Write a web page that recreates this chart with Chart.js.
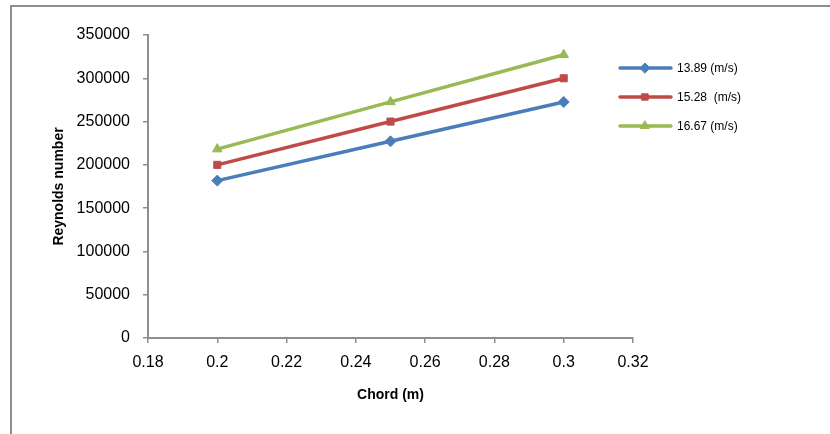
<!DOCTYPE html>
<html>
<head>
<meta charset="utf-8">
<script src="https://cdn.jsdelivr.net/npm/chart.js@4/dist/chart.umd.min.js"></script>
<style>
    html, body { margin: 0; padding: 0; background: #fff; overflow: hidden; }
    #wrap { position: relative; width: 830px; height: 434px; }
    #frame {
        position: absolute; left: 10px; top: 5px; width: 900px; height: 500px;
        border-left: 2px solid #8e8e8e; border-top: 2px solid #8e8e8e;
    }
    #chart { position: absolute; left: 0; top: 0; }
</style>
</head>
<body>
<div id="wrap">
    <div id="frame"></div>
    <canvas id="chart" width="830" height="434"></canvas>
</div>
<script>
// Chart data
const chordValues = [0.2, 0.25, 0.3];
const seriesLabels = ['13.89 (m/s)', '15.28  (m/s)', '16.67 (m/s)'];
const re1389 = [181800, 227200, 272700];
const re1528 = [200000, 250000, 300000];
const re1667 = [218200, 272700, 327200];
const xTicks = [0.18, 0.2, 0.22, 0.24, 0.26, 0.28, 0.3, 0.32];
const yTicks = [0, 50000, 100000, 150000, 200000, 250000, 300000, 350000];

const seriesColors = ['#4a7ebb', '#be4b48', '#98b954'];
const seriesMarkers = ['rectRot', 'rect', 'triangle'];
const seriesValues = [re1389, re1528, re1667];

const FONT = '"Liberation Sans", Arial, sans-serif';

// Custom legend: line with marker, like the spreadsheet one
const lineLegend = {
    id: 'lineLegend',
    afterDraw(chart) {
        const c = chart.ctx;
        const rows = [68, 97, 126];
        chart.data.datasets.forEach((ds, i) => {
            const y = rows[i];
            c.save();
            c.strokeStyle = ds.borderColor;
            c.lineWidth = 3.5;
            c.lineCap = 'round';
            c.beginPath();
            c.moveTo(620, y);
            c.lineTo(671, y);
            c.stroke();
            c.fillStyle = ds.borderColor;
            c.lineWidth = 1;
            Chart.helpers.drawPoint(c, {
                pointStyle: ds.pointStyle,
                radius: ds.pointRadius - 0.5,
                rotation: 0,
                borderWidth: 1
            }, 645, y);
            c.fillStyle = '#000';
            c.font = '12px ' + FONT;
            c.textBaseline = 'middle';
            c.fillText(ds.label, 677, y + 1);
            c.restore();
        });
    }
};

new Chart(document.getElementById('chart'), {
    type: 'line',
    data: {
        datasets: seriesValues.map((vals, i) => ({
            label: seriesLabels[i],
            data: chordValues.map((x, j) => ({ x: x, y: vals[j] })),
            borderColor: seriesColors[i],
            backgroundColor: seriesColors[i],
            borderWidth: 3.5,
            pointStyle: seriesMarkers[i],
            pointRadius: i === 1 ? 5 : 5.5,
            pointBorderWidth: 1,
            tension: 0
        }))
    },
    options: {
        responsive: false,
        animation: false,
        layout: { padding: { left: 51, right: 197, top: 35, bottom: 30 } },
        plugins: {
            legend: { display: false },
            tooltip: { enabled: false }
        },
        scales: {
            x: {
                type: 'linear',
                min: 0.18,
                max: 0.32,
                afterBuildTicks: s => { s.ticks = xTicks.map(v => ({ value: v })); },
                afterFit: s => { s.height = 434 - 338 - 30; },
                ticks: {
                    color: '#000',
                    font: { family: FONT, size: 16 },
                    padding: 10,
                    maxRotation: 0,
                    callback: v => String(parseFloat(v.toFixed(2)))
                },
                grid: {
                    drawOnChartArea: false,
                    drawTicks: true,
                    tickLength: 5,
                    color: '#8e8e8e',
                    lineWidth: 1.5
                },
                border: { color: '#8e8e8e', width: 2 },
                title: {
                    display: true,
                    text: 'Chord (m)',
                    color: '#000',
                    font: { family: FONT, size: 14, weight: 'bold' },
                    padding: { top: 14, bottom: 0 }
                }
            },
            y: {
                type: 'linear',
                min: 0,
                max: 350000,
                afterBuildTicks: s => { s.ticks = yTicks.map(v => ({ value: v })); },
                afterFit: s => { s.width = 148 - 51; },
                ticks: {
                    color: '#000',
                    font: { family: FONT, size: 16 },
                    padding: 13,
                    callback: v => String(v)
                },
                grid: {
                    drawOnChartArea: false,
                    drawTicks: true,
                    tickLength: 5,
                    color: '#8e8e8e',
                    lineWidth: 1.5
                },
                border: { color: '#8e8e8e', width: 2 },
                title: {
                    display: true,
                    text: 'Reynolds number',
                    color: '#000',
                    font: { family: FONT, size: 14, weight: 'bold' },
                    padding: { top: 0, bottom: 0 }
                }
            }
        }
    },
    plugins: [lineLegend]
});
</script>
</body>
</html>
